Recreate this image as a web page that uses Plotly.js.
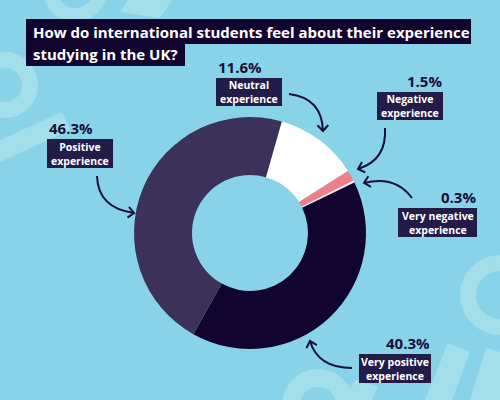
<!DOCTYPE html>
<html>
<head>
<meta charset="utf-8">
<script src="https://cdn.plot.ly/plotly-3.0.1.min.js"></script>
<style>html,body{margin:0;padding:0;background:#89D3E8;}#chart{width:500px;height:400px;}</style>
</head>
<body>
<div id="chart"></div>
<script>
// ---- data ----
const labels = ['Neutral experience', 'Negative experience', 'Very negative experience', 'Very positive experience', 'Positive experience'];
const values = [11.6, 1.5, 0.3, 40.3, 46.3];
const sliceColors = ['#FFFFFF', '#EE7F8A', '#F6EEF2', '#110530', '#3B3159'];
const titleLines = ['How do international students feel about their experience', 'studying in the UK?'];

// ---- layout helpers (pixel -> paper) ----
const W = 500, H = 400;
const px = x => x / W;
const py = y => 1 - y / H;
const P = (x, y) => `${px(x)},${py(y)}`;
const NAVY = '#16103A';
const BOXC = '#231B48';
const DECO = '#A3DEEB';
const FONT = '"Open Sans", sans-serif';

const shapes = [];
const annotations = [];

// background decorations
function ring(cx, cy, r, t) {
  shapes.push({type: 'circle', xref: 'paper', yref: 'paper', layer: 'below',
    x0: px(cx - r), x1: px(cx + r), y0: py(cy + r), y1: py(cy - r),
    line: {color: DECO, width: t}, fillcolor: 'rgba(0,0,0,0)'});
}
function poly(pts) {
  shapes.push({type: 'path', xref: 'paper', yref: 'paper', layer: 'below',
    path: 'M' + pts.map(p => P(p[0], p[1])).join('L') + 'Z', fillcolor: DECO, line: {width: 0}});
}
ring(5, 85, 25, 16);
ring(75, -10, 25, 14);
ring(500, 295, 32, 16);
ring(318, 405, 27, 18);
poly([[0, 140], [62, 112], [70, 130], [0, 162]]);
poly([[128, 0], [172, 0], [160, 18], [120, 12]]);
poly([[425, 400], [448, 343], [470, 352], [452, 400]]);
poly([[470, 400], [486, 348], [500, 352], [500, 400]]);
poly([[345, 400], [355, 380], [378, 386], [372, 400]]);

// title boxes + text
const titleBoxes = [[26, 19, 471, 44], [26, 44, 185, 66]];
titleBoxes.forEach(b => shapes.push({type: 'rect', xref: 'paper', yref: 'paper', layer: 'below',
  x0: px(b[0]), x1: px(b[2]), y0: py(b[3]), y1: py(b[1]), fillcolor: '#110530', line: {width: 0}}));
const titleY = [32, 54];
titleLines.forEach((t, i) => annotations.push({xref: 'paper', yref: 'paper', x: px(31), y: py(titleY[i]),
  xanchor: 'left', yanchor: 'middle', showarrow: false, text: '<b>' + t + '</b>',
  font: {family: FONT, size: 15, color: '#FFFFFF'}}));

// label boxes [x0, y0, x1, y1], percent alignment
const boxPos = [
  [216, 78, 282, 106, 'left'],
  [377, 92, 443, 120, 'right'],
  [398, 208, 477, 237, 'right'],
  [359, 354, 431, 383, 'right'],
  [47, 139, 113, 168, 'left']
];
labels.forEach((lab, i) => {
  const b = boxPos[i];
  shapes.push({type: 'rect', xref: 'paper', yref: 'paper', layer: 'below',
    x0: px(b[0]), x1: px(b[2]), y0: py(b[3]), y1: py(b[1]), fillcolor: BOXC, line: {width: 0}});
  const words = lab.split(' ');
  const last = words.pop();
  annotations.push({xref: 'paper', yref: 'paper', x: px((b[0] + b[2]) / 2), y: py((b[1] + b[3]) / 2),
    xanchor: 'center', yanchor: 'middle', showarrow: false, align: 'center',
    text: '<b>' + words.join(' ') + '<br>' + last + '</b>',
    font: {family: FONT, size: 10.5, color: '#FFFFFF'}});
  annotations.push({xref: 'paper', yref: 'paper', x: px(b[4] === 'left' ? b[0] : b[2] + 1), y: py(b[1] - 11),
    xanchor: b[4], yanchor: 'middle', showarrow: false,
    text: '<b>' + values[i].toFixed(1) + '%</b>',
    font: {family: FONT, size: 15, color: NAVY}});
});

// curved arrows [start, control, end]
const arrows = [
  [[289, 94], [322, 98], [323, 131]],
  [[385, 128], [387, 160], [358, 169]],
  [[412, 198], [395, 175], [364, 183]],
  [[352, 368], [318, 368], [310, 341]],
  [[97, 176], [98, 208], [134, 213]]
];
arrows.forEach(a => {
  const [s, c, e] = a;
  shapes.push({type: 'path', xref: 'paper', yref: 'paper',
    path: `M${P(s[0], s[1])}Q${P(c[0], c[1])} ${P(e[0], e[1])}`,
    line: {color: NAVY, width: 2}});
  const dx = e[0] - c[0], dy = e[1] - c[1];
  const ang = Math.atan2(dy, dx), L = 8, sp = 0.75;
  const h1 = [e[0] - L * Math.cos(ang - sp), e[1] - L * Math.sin(ang - sp)];
  const h2 = [e[0] - L * Math.cos(ang + sp), e[1] - L * Math.sin(ang + sp)];
  shapes.push({type: 'path', xref: 'paper', yref: 'paper',
    path: `M${P(h1[0], h1[1])}L${P(e[0], e[1])}L${P(h2[0], h2[1])}`,
    line: {color: NAVY, width: 2}});
});

// donut
const cx = 250, cy = 233, R = 116;
const trace = {
  type: 'pie', labels: labels, values: values, hole: 0.5, sort: false,
  direction: 'clockwise', rotation: 15.9, textinfo: 'none', hoverinfo: 'label+percent',
  marker: {colors: sliceColors, line: {width: 0}},
  domain: {x: [px(cx - R), px(cx + R)], y: [py(cy + R), py(cy - R)]},
  showlegend: false
};

const layout = {
  width: W, height: H, margin: {l: 0, r: 0, t: 0, b: 0},
  paper_bgcolor: '#89D3E8', plot_bgcolor: '#89D3E8',
  shapes: shapes, annotations: annotations, showlegend: false
};
Plotly.newPlot('chart', [trace], layout, {displayModeBar: false, staticPlot: true});
</script>
</body>
</html>
